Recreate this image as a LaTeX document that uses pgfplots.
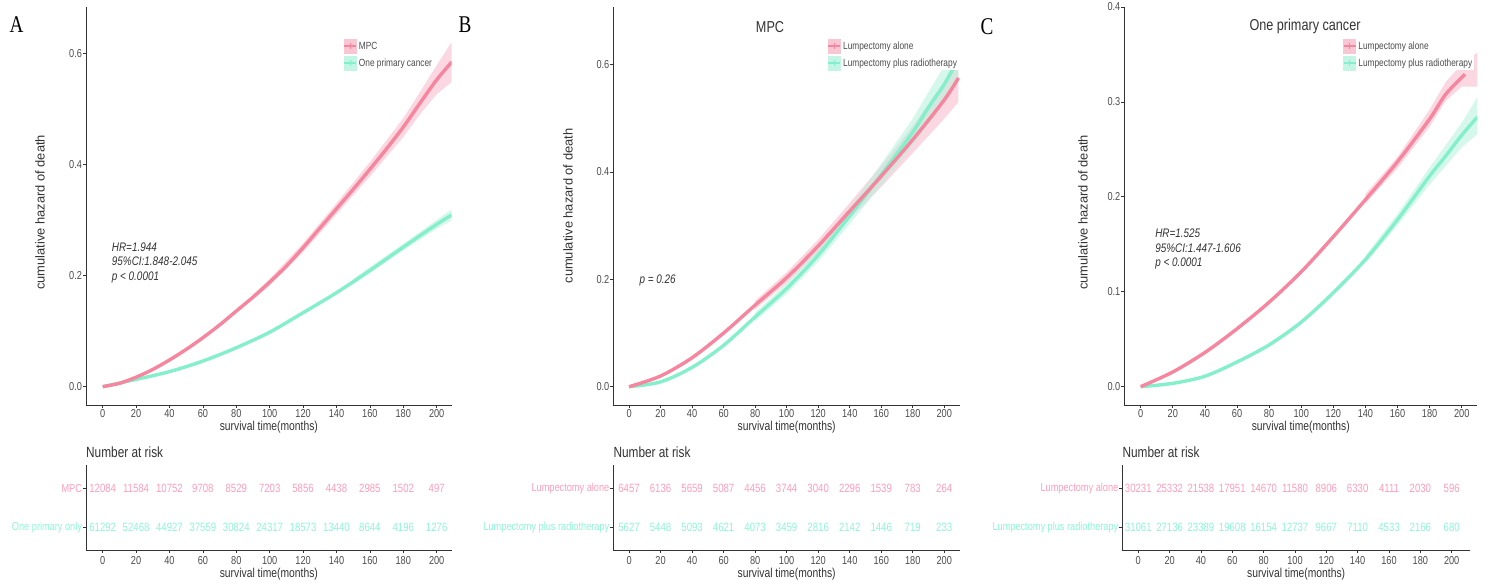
\documentclass[border=0pt]{standalone}
\usepackage{fontspec}
\setmainfont{Liberation Sans}[FakeStretch=0.8]
\newfontfamily\ylabfont{Liberation Sans}
\newfontfamily\letterfont{Liberation Serif}[FakeStretch=0.8]
\usepackage{pgfplots}
\pgfplotsset{compat=1.18}
\definecolor{pinkline}{HTML}{F7859E}
\definecolor{greenline}{HTML}{84EFCB}
\definecolor{pinkband}{HTML}{F8B8C8}
\definecolor{greenband}{HTML}{B5F3DD}
\definecolor{pinkrisk}{HTML}{FF9DBB}
\definecolor{greenrisk}{HTML}{8CF5D5}
\definecolor{axgray}{HTML}{333333}
\definecolor{tickgray}{HTML}{4D4D4D}
\tikzset{
  ann/.style={anchor=west, align=left, font=\itshape\fontsize{12.4}{14.5}\selectfont, text=axgray},
  letter/.style={font=\letterfont\fontsize{24}{24}\selectfont, text=black},
  ttl/.style={font=\fontsize{15.8}{16}\selectfont, text=axgray},
  nar/.style={anchor=west, inner sep=0pt, font=\fontsize{14.8}{15}\selectfont, text=axgray},
  xlab/.style={at={(axis description cs:0.5,#1)}, anchor=center, font=\fontsize{12.9}{14}\selectfont, text=axgray},
  ylab/.style={at={(axis description cs:#1)}, rotate=90, anchor=center, font=\ylabfont\fontsize{12.9}{14}\selectfont, text=axgray},
}
\pgfplotsset{
  gg/.style={
    scale only axis, axis lines=left,
    axis line style={-, line width=0.9pt, color=axgray},
    tick style={line width=0.7pt, color=axgray}, tick align=outside, major tick length=3pt,
    ticklabel style={font=\fontsize{11.5}{12}\selectfont, text=tickgray},
    /pgf/number format/assume math mode=true,
    xtick={0,20,...,200},
    yticklabel style={inner sep=0.8pt},
    xticklabel style={inner sep=1pt},
    xlabel={survival time(months)},
    clip mode=individual,
  },
  main/.style={gg, height=398pt, ylabel={cumulative hazard of death},
    yticklabel style={/pgf/number format/.cd, fixed, fixed zerofill, precision=1},
    every axis x label/.style={xlab=-0.056},
    legend cell align=left,
  },
  risk/.style={gg, height=85pt, ymin=0.42, ymax=2.6, ytick={1,2},
    every axis x label/.style={xlab=-0.28},
    xticklabel style={inner sep=3pt},
  },
  pinknum/.style={draw=none, mark=none, point meta=explicit symbolic, nodes near coords,
    nodes near coords align={center},
    every node near coord/.append style={font=\fontsize{12}{12}\selectfont, text=pinkrisk, anchor=center}},
  greennum/.style={draw=none, mark=none, point meta=explicit symbolic, nodes near coords,
    nodes near coords align={center},
    every node near coord/.append style={font=\fontsize{12}{12}\selectfont, text=greenrisk, anchor=center}},
  pinkkey/.style={legend image code/.code={
    \fill[pinkband!80] (0pt,-7pt) rectangle (12pt,7pt);
    \draw[pinkline, line width=1.6pt] (0pt,0pt)--(12pt,0pt);
    \draw[pinkline, line width=0.9pt] (6pt,-3pt)--(6pt,3pt);}},
  greenkey/.style={legend image code/.code={
    \fill[greenband!80] (0pt,-7pt) rectangle (12pt,7pt);
    \draw[greenline, line width=1.6pt] (0pt,0pt)--(12pt,0pt);
    \draw[greenline, line width=0.9pt] (6pt,-3pt)--(6pt,3pt);}},
  leg/.style={legend style={at={(axis description cs:#1,0.9196)}, anchor=north west,
    draw=none, fill=white, inner sep=0pt, outer sep=0pt,
    font=\fontsize{10.4}{11}\selectfont, text=tickgray, row sep=2.5pt,
    /tikz/every even column/.append style={column sep=4pt}}},
  pl/.style={pinkline, line width=3.4pt, smooth, tension=0.5, forget plot},
  gl/.style={greenline, line width=3.4pt, smooth, tension=0.5, forget plot},
  pb/.style={draw=none, fill=pinkband, fill opacity=0.55, forget plot},
  gb/.style={draw=none, fill=greenband, fill opacity=0.55, forget plot},
}
\begin{document}
\begin{tikzpicture}
\path[use as bounding box] (0pt,0pt) rectangle (1490pt,584pt);
% ---------------- Panel A ----------------
\begin{axis}[main, at={(86pt,179pt)}, anchor=south west, width=365.7pt,
  xmin=-10, xmax=209, ymin=-0.033, ymax=0.683, ytick={0,0.2,0.4,0.6},
  every axis y label/.style={ylab={-0.1258,0.484}},
  leg=0.7036]
\addplot[pb] coordinates {(90,0.165) (100,0.194) (120,0.258) (140,0.330) (160,0.404) (180,0.483) (190,0.530) (200,0.578) (209,0.620)
  (209,0.548) (200,0.526) (190,0.490) (180,0.449) (160,0.378) (140,0.310) (120,0.242) (100,0.182) (90,0.157)};
\addplot[gb] coordinates {(150,0.194) (180,0.257) (200,0.300) (209,0.319) (209,0.299) (200,0.284) (180,0.245) (150,0.184)};
\addplot[gl] coordinates {(0,0) (20,0.013) (40,0.027) (60,0.046) (80,0.070) (100,0.098) (120,0.133) (140,0.169) (160,0.209) (180,0.251) (200,0.292) (209,0.309)};
\addplot[pl] coordinates {(0,0) (10,0.006) (20,0.017) (30,0.031) (40,0.048) (50,0.067) (60,0.088) (70,0.111) (80,0.136) (90,0.161) (100,0.188) (110,0.217) (120,0.250) (130,0.285) (140,0.320) (150,0.355) (160,0.391) (170,0.428) (180,0.467) (190,0.510) (200,0.552) (209,0.584)};
\addlegendimage{pinkkey}\addlegendentry{MPC}
\addlegendimage{greenkey}\addlegendentry{One primary cancer}
\node[ann] at (axis cs:3.4,0.2226) {HR=1.944\\95\%CI:1.848-2.045\\p < 0.0001};
\node[letter] at (rel axis cs:-0.19,0.957) {A};
\end{axis}
\begin{axis}[risk, at={(86pt,34pt)}, anchor=south west, width=365.7pt, xmin=-10, xmax=209,
  yticklabels={\textcolor{greenrisk}{One primary only},\textcolor{pinkrisk}{MPC}}]
\addplot[pinknum] coordinates {(0,2)[12084] (20,2)[11584] (40,2)[10752] (60,2)[9708] (80,2)[8529] (100,2)[7203] (120,2)[5856] (140,2)[4438] (160,2)[2985] (180,2)[1502] (200,2)[497]};
\addplot[greennum] coordinates {(0,1)[61292] (20,1)[52468] (40,1)[44927] (60,1)[37559] (80,1)[30824] (100,1)[24317] (120,1)[18573] (140,1)[13440] (160,1)[8644] (180,1)[4196] (200,1)[1276]};
\node[nar] at (rel axis cs:0,1.155) {Number at risk};
\end{axis}
% ---------------- Panel B ----------------
\begin{axis}[main, at={(613.3pt,179pt)}, anchor=south west, width=346.7pt,
  xmin=-10, xmax=210, ymin=-0.034, ymax=0.707, ytick={0,0.2,0.4,0.6},
  every axis y label/.style={ylab={-0.1307,0.5}},
  leg=0.618]
\addplot[pb] coordinates {(80,0.160) (100,0.213) (120,0.274) (140,0.342) (160,0.412) (180,0.485) (200,0.569) (209,0.620)
  (209,0.530) (200,0.499) (180,0.435) (160,0.372) (140,0.312) (120,0.250) (100,0.193) (80,0.144)};
\addplot[gb] coordinates {(80,0.138) (100,0.193) (120,0.257) (140,0.333) (160,0.415) (180,0.499) (200,0.598) (209,0.640)
  (209,0.570) (200,0.528) (180,0.449) (160,0.375) (140,0.303) (120,0.233) (100,0.173) (80,0.122)};
\addplot[gl] coordinates {(0,0) (20,0.009) (40,0.036) (60,0.077) (80,0.130) (100,0.183) (120,0.245) (140,0.318) (160,0.395) (180,0.474) (190,0.520) (200,0.563) (207,0.600)};
\addplot[pl] coordinates {(0,0) (20,0.020) (40,0.054) (60,0.100) (80,0.152) (100,0.203) (120,0.262) (140,0.327) (160,0.392) (180,0.460) (200,0.534) (209,0.575)};
\addlegendimage{pinkkey}\addlegendentry{Lumpectomy alone}
\addlegendimage{greenkey}\addlegendentry{Lumpectomy plus radiotherapy}
\node[ann] at (axis cs:4.4,0.1986) {p = 0.26};
\node[ttl] at (rel axis cs:0.452,0.9505) {MPC};
\node[letter] at (rel axis cs:-0.428,0.955) {B};
\end{axis}
\begin{axis}[risk, at={(613.3pt,34pt)}, anchor=south west, width=346.7pt, xmin=-10, xmax=210,
  yticklabels={\textcolor{greenrisk}{Lumpectomy plus radiotherapy},\textcolor{pinkrisk}{Lumpectomy alone}}]
\addplot[pinknum] coordinates {(0,2)[6457] (20,2)[6136] (40,2)[5659] (60,2)[5087] (80,2)[4456] (100,2)[3744] (120,2)[3040] (140,2)[2296] (160,2)[1539] (180,2)[783] (200,2)[264]};
\addplot[greennum] coordinates {(0,1)[5627] (20,1)[5448] (40,1)[5093] (60,1)[4621] (80,1)[4073] (100,1)[3459] (120,1)[2816] (140,1)[2142] (160,1)[1446] (180,1)[719] (200,1)[233]};
\node[nar] at (rel axis cs:0,1.155) {Number at risk};
\end{axis}
% ---------------- Panel C ----------------
\begin{axis}[main, at={(1124.3pt,179pt)}, anchor=south west, width=353pt,
  xmin=-10.2, xmax=209.7, ymin=-0.0193, ymax=0.4, ytick={0,0.1,0.2,0.3,0.4},
  every axis y label/.style={ylab={-0.117,0.484}},
  leg=0.619]
\addplot[pb] coordinates {(140,0.203) (160,0.242) (180,0.292) (190,0.321) (200,0.340) (209.7,0.352)
  (209.7,0.316) (200,0.316) (190,0.301) (180,0.274) (160,0.230) (140,0.193)};
\addplot[gb] coordinates {(140,0.138) (160,0.182) (180,0.231) (200,0.278) (209.7,0.305)
  (209.7,0.266) (200,0.252) (180,0.213) (160,0.170) (140,0.130)};
\addplot[gl] coordinates {(0,0) (20,0.0035) (40,0.011) (60,0.026) (80,0.044) (100,0.068) (120,0.099) (140,0.134) (160,0.176) (180,0.222) (190,0.243) (200,0.265) (209.7,0.284)};
\addplot[pl] coordinates {(0,0) (20,0.0155) (40,0.036) (60,0.061) (80,0.089) (100,0.121) (120,0.158) (140,0.197) (160,0.237) (180,0.282) (190,0.308) (202,0.329)};
\addlegendimage{pinkkey}\addlegendentry{Lumpectomy alone}
\addlegendimage{greenkey}\addlegendentry{Lumpectomy plus radiotherapy}
\node[ann] at (axis cs:6.9,0.1449) {HR=1.525\\95\%CI:1.447-1.606\\p < 0.0001};
\node[ttl] at (rel axis cs:0.512,0.952) {One primary cancer};
\node[letter] at (rel axis cs:-0.389,0.951) {C};
\end{axis}
\begin{axis}[risk, at={(1122.3pt,34pt)}, anchor=south west, width=347.7pt, xmin=-10.2, xmax=211.7,
  yticklabels={\textcolor{greenrisk}{Lumpectomy plus radiotherapy},\textcolor{pinkrisk}{Lumpectomy alone}}]
\addplot[pinknum] coordinates {(0,2)[30231] (20,2)[25332] (40,2)[21538] (60,2)[17951] (80,2)[14670] (100,2)[11580] (120,2)[8906] (140,2)[6330] (160,2)[4111] (180,2)[2030] (200,2)[596]};
\addplot[greennum] coordinates {(0,1)[31061] (20,1)[27136] (40,1)[23389] (60,1)[19608] (80,1)[16154] (100,1)[12737] (120,1)[9667] (140,1)[7110] (160,1)[4533] (180,1)[2166] (200,1)[680]};
\node[nar] at (rel axis cs:0,1.155) {Number at risk};
\end{axis}
\end{tikzpicture}
\end{document}
